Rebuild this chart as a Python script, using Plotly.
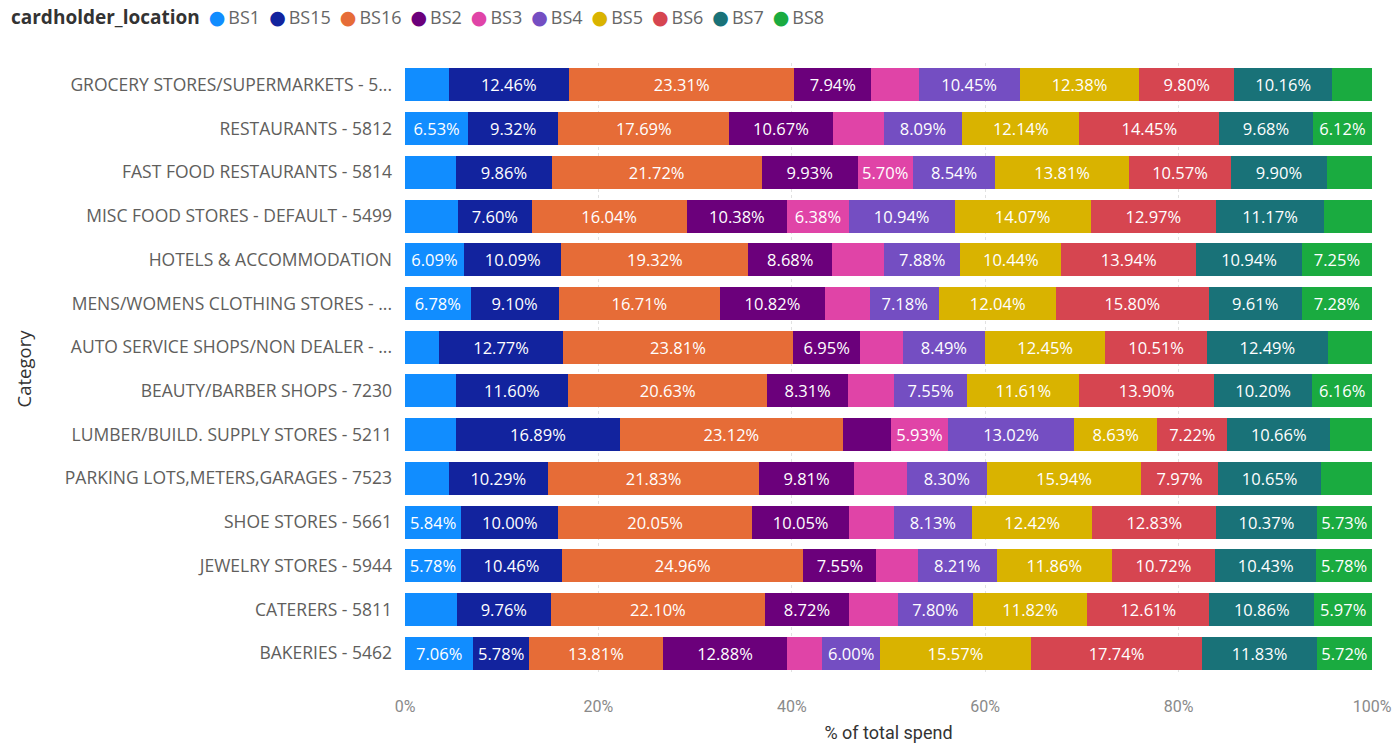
import plotly.graph_objects as go

# Merchant categories, top to bottom
categories = [
    "GROCERY STORES/SUPERMARKETS - 5...",
    "RESTAURANTS - 5812",
    "FAST FOOD RESTAURANTS - 5814",
    "MISC FOOD STORES - DEFAULT - 5499",
    "HOTELS & ACCOMMODATION",
    "MENS/WOMENS CLOTHING STORES - ...",
    "AUTO SERVICE SHOPS/NON DEALER - ...",
    "BEAUTY/BARBER SHOPS - 7230",
    "LUMBER/BUILD. SUPPLY STORES - 5211",
    "PARKING LOTS,METERS,GARAGES - 7523",
    "SHOE STORES - 5661",
    "JEWELRY STORES - 5944",
    "CATERERS - 5811",
    "BAKERIES - 5462",
]

# Share of total spend (%) by cardholder location, one list per location
bs1 = [4.50, 6.53, 5.30, 5.49, 6.09, 6.78, 3.55, 5.25, 5.30, 4.50, 5.84, 5.78, 5.34, 7.06]
bs15 = [12.46, 9.32, 9.86, 7.60, 10.09, 9.10, 12.77, 11.60, 16.89, 10.29, 10.00, 10.46, 9.76, 5.78]
bs16 = [23.31, 17.69, 21.72, 16.04, 19.32, 16.71, 23.81, 20.63, 23.12, 21.83, 20.05, 24.96, 22.10, 13.81]
bs2 = [7.94, 10.67, 9.93, 10.38, 8.68, 10.82, 6.95, 8.31, 4.92, 9.81, 10.05, 7.55, 8.72, 12.88]
bs3 = [4.90, 5.31, 5.70, 6.38, 5.37, 4.68, 4.40, 4.79, 5.93, 5.45, 4.58, 4.25, 5.02, 3.61]
bs4 = [10.45, 8.09, 8.54, 10.94, 7.88, 7.18, 8.49, 7.55, 13.02, 8.30, 8.13, 8.21, 7.80, 6.00]
bs5 = [12.38, 12.14, 13.81, 14.07, 10.44, 12.04, 12.45, 11.61, 8.63, 15.94, 12.42, 11.86, 11.82, 15.57]
bs6 = [9.80, 14.45, 10.57, 12.97, 13.94, 15.80, 10.51, 13.90, 7.22, 7.97, 12.83, 10.72, 12.61, 17.74]
bs7 = [10.16, 9.68, 9.90, 11.17, 10.94, 9.61, 12.49, 10.20, 10.66, 10.65, 10.37, 10.43, 10.86, 11.83]
bs8 = [4.10, 6.12, 4.67, 4.96, 7.25, 7.28, 4.58, 6.16, 4.31, 5.26, 5.73, 5.78, 5.97, 5.72]

locations = ["BS1", "BS15", "BS16", "BS2", "BS3", "BS4", "BS5", "BS6", "BS7", "BS8"]
series = [bs1, bs15, bs16, bs2, bs3, bs4, bs5, bs6, bs7, bs8]
colors = ["#118DFF", "#12239E", "#E66C37", "#6B007B", "#E044A7",
          "#744EC2", "#D9B300", "#D64550", "#197278", "#1AAB40"]

x_ticks = [0, 20, 40, 60, 80, 100]
x_tick_text = ["0%", "20%", "40%", "60%", "80%", "100%"]

# segments narrower than this get no data label
LABEL_MIN = 5.6

FONT = "Open Sans"
AXIS_FONT = "Roboto"

fig = go.Figure()
for name, vals, col in zip(locations, series, colors):
    labels = [f"{v:.2f}%" if v >= LABEL_MIN else "" for v in vals]
    fig.add_trace(go.Bar(
        name=name, y=categories, x=vals, orientation="h",
        marker=dict(color=col, line=dict(width=0)),
        text=labels, textposition="inside", insidetextanchor="middle",
        textangle=0, constraintext="none",
        textfont=dict(color="white", size=16.5, family=FONT),
        showlegend=False, hoverinfo="x+y+name",
    ))

# compact legend line: bold title followed by round swatches
GAP = "\u2002"
THIN = "\u2009"
legend_parts = [f"<span style='color:#333333;font-size:19px'><b>cardholder_location</b></span>{GAP}"]
for name, col in zip(locations, colors):
    legend_parts.append(
        f"<span style='color:{col};font-family:DejaVu Sans;font-size:19px'>●</span>"
        f"{THIN}{name}{GAP}"
    )
legend_text = "".join(legend_parts)

fig.add_annotation(
    text=legend_text, xref="paper", yref="paper",
    x=-(405 - 9) / (1398 - 405 - 26), y=1.0, xanchor="left", yanchor="middle",
    yshift=(63 - 17), showarrow=False, align="left",
    font=dict(family=FONT, size=18, color="#666666"),
)

fig.update_layout(
    barmode="stack",
    bargap=0.245,
    width=1398, height=744,
    margin=dict(l=405, r=26, t=63, b=69, autoexpand=False),
    paper_bgcolor="white", plot_bgcolor="white",
    font=dict(family=FONT, color="#605E5C", size=13),
    showlegend=False,
    xaxis=dict(
        range=[0, 100], tickvals=x_ticks, ticktext=x_tick_text,
        showgrid=True, gridcolor="#E1E1E1", griddash="dot", gridwidth=1,
        zeroline=False, showline=False, ticks="",
        tickfont=dict(size=16, color="#8A8A8A", family=AXIS_FONT),
        ticklabelstandoff=20,
        title=dict(text="% of total spend",
                   font=dict(size=18, color="#333333", family=AXIS_FONT), standoff=11),
        fixedrange=True,
    ),
    yaxis=dict(
        autorange="reversed", showgrid=False, zeroline=False, ticks="",
        tickfont=dict(size=17.5, color="#605E5C", family=FONT),
        ticklabelstandoff=12,
        title=dict(text="Category", font=dict(size=18.5, color="#333333", family=FONT),
                   standoff=28),
        automargin=False,
    ),
)

fig.write_html("out.html")
